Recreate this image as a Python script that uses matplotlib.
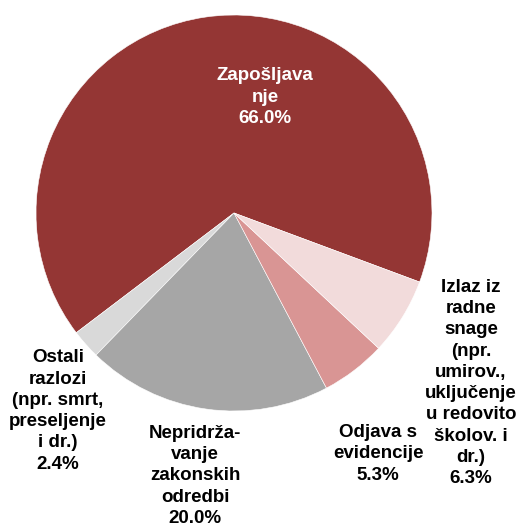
import matplotlib.pyplot as plt

# --- Data ---
labels = [
    "Zapošljava\nnje",
    "Ostali\nrazlozi\n(npr. smrt,\npreseljenje\ni dr.)",
    "Nepridrža-\nvanje\nzakonskih\nodredbi",
    "Odjava s\nevidencije",
    "Izlaz iz\nradne\nsnage\n(npr.\numirov.,\nuključenje\nu redovito\nškolov. i\ndr.)",
]
shares = [66.0, 2.4, 20.0, 5.3, 6.3]
colors = ["#943634", "#D9D9D9", "#A6A6A6", "#D99594", "#F2DBDB"]
text_colors = ["white", "black", "black", "black", "black"]

# label centres in pixel coords (x, y from top)
label_pos = [(265, 97), (58, 411), (195, 476), (378, 454), (471, 383)]

W, H = 526, 529
fig = plt.figure(figsize=(W / 100, H / 100), dpi=100)
ax = fig.add_axes([0, 0, 1, 1])

ax.pie(
    shares,
    colors=colors,
    startangle=-20.4,
    counterclock=True,
    center=(234, H - 213),
    radius=198,
    wedgeprops=dict(edgecolor="white", linewidth=0.4),
    frame=True,
)
ax.axis("off")
ax.set_xlim(0, W)
ax.set_ylim(0, H)
ax.set_aspect("equal")

for lab, val, (px, py), tc in zip(labels, shares, label_pos, text_colors):
    ax.text(px, H - py, f"{lab}\n{val:.1f}%", ha="center", va="center",
            color=tc, fontsize=13.5, fontweight="bold",
            family="Liberation Sans", linespacing=1.33)

fig.savefig("out.png", dpi=100)
